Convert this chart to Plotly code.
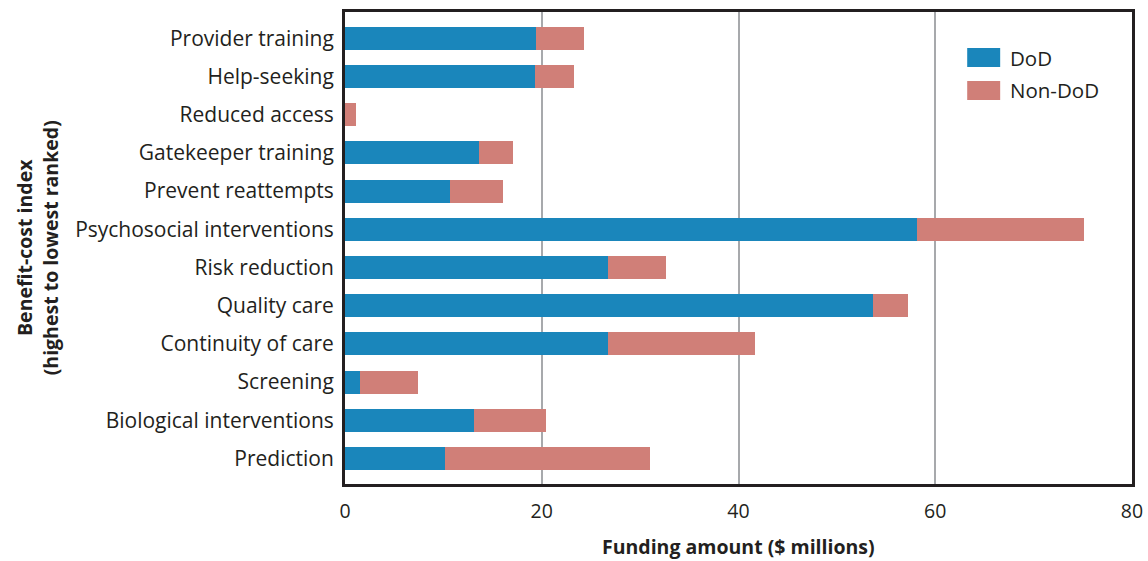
import plotly.graph_objects as go

categories = ["Provider training", "Help-seeking", "Reduced access", "Gatekeeper training",
              "Prevent reattempts", "Psychosocial interventions", "Risk reduction", "Quality care",
              "Continuity of care", "Screening", "Biological interventions", "Prediction"]
dod = [19.4, 19.3, 0.0, 13.6, 10.7, 58.1, 26.7, 53.7, 26.7, 1.5, 13.1, 10.2]
total = [24.3, 23.3, 1.1, 17.1, 16.1, 75.1, 32.6, 57.2, 41.7, 7.4, 20.4, 31.0]
non_dod = [round(t - d, 2) for t, d in zip(total, dod)]
x_ticks = [0, 20, 40, 60, 80]
series_names = ["DoD", "Non-DoD"]
series_colors = ["#1a86bb", "#d07f78"]

FONT = "Open Sans"
INK = "#231f20"

fig = go.Figure()
for name, vals, col in zip(series_names, [dod, non_dod], series_colors):
    fig.add_trace(go.Bar(y=categories, x=vals, name=name, orientation="h",
                         marker=dict(color=col, line=dict(width=0)), showlegend=False))

# manual legend (larger swatches as in the reference)
leg_y = [0.9237, 0.8538]
for name, col, y1 in zip(series_names, series_colors, leg_y):
    fig.add_shape(type="rect", xref="paper", yref="paper", x0=0.7906, x1=0.8325,
                  y0=y1 - 0.0402, y1=y1, fillcolor=col, line=dict(width=0))
    fig.add_annotation(xref="paper", yref="paper", x=0.843, y=y1 - 0.0201, text=name,
                       showarrow=False, xanchor="left", yanchor="middle",
                       font=dict(size=20.5, color=INK, family=FONT))

fig.add_annotation(xref="paper", yref="paper", x=0.5, y=-0.133, text="<b>Funding amount ($ millions)</b>",
                   showarrow=False, xanchor="center", yanchor="middle",
                   font=dict(size=19.5, color=INK, family=FONT))
fig.add_annotation(xref="paper", yref="paper", x=-0.391, y=0.5,
                   text="<b>Benefit-cost index<br>(highest to lowest ranked)</b>",
                   showarrow=False, xanchor="center", yanchor="middle", textangle=-90,
                   font=dict(size=19.5, color=INK, family=FONT))

fig.update_layout(
    barmode="stack",
    bargap=0.4,
    width=1148, height=561,
    margin=dict(l=345, r=16, t=12, b=77, autoexpand=False),
    paper_bgcolor="white", plot_bgcolor="white",
    font=dict(family=FONT, size=20, color=INK),
    showlegend=False,
    xaxis=dict(range=[0, 80], tickvals=x_ticks, showgrid=True, gridcolor="#a7a9ac", gridwidth=1.6,
               zeroline=False, showline=True, linecolor=INK, linewidth=3, mirror=True,
               ticks="", ticklabelstandoff=8, tickfont=dict(size=19.5, color=INK), automargin=False),
    yaxis=dict(range=[11.67, -0.69], showgrid=False, showline=True, linecolor=INK, linewidth=3,
               mirror=True, ticks="", ticklabelstandoff=4, tickfont=dict(size=21, color=INK),
               automargin=False),
)

fig.write_html("out.html", config={"displayModeBar": False},
               post_script="document.body.style.margin='0px';")
